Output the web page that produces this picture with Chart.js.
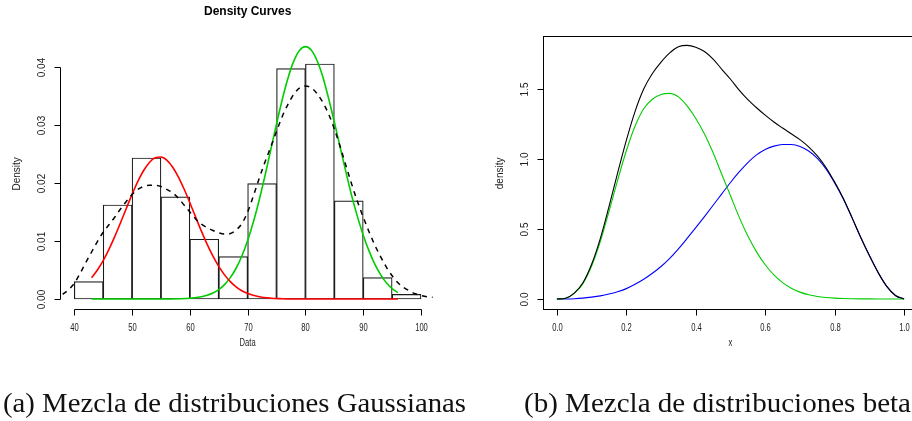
<!DOCTYPE html>
<html>
<head>
<meta charset="utf-8">
<script src="https://cdn.jsdelivr.net/npm/chart.js@4.4.1/dist/chart.umd.min.js"></script>
<style>
    html, body { margin: 0; padding: 0; background: #fff; overflow: hidden; width: 912px; height: 421px; position: relative; }
    canvas { position: absolute; top: 0; }
    #left { left: 0; }
    #right { left: 456px; }
    #captions { left: 0; pointer-events: none; }
</style>
</head>
<body>
<canvas id="left" width="456" height="421"></canvas>
<canvas id="right" width="470" height="421"></canvas>
<canvas id="captions" width="912" height="421"></canvas>
<script>
// ---- panel (a): histogram + gaussian curves ----
const binMids = [42.5, 47.5, 52.5, 57.5, 62.5, 67.5, 72.5, 77.5, 82.5, 87.5, 92.5, 97.5];
const histDensity = [0.0030, 0.0162, 0.0243, 0.0176, 0.0103, 0.0073, 0.0199, 0.0397, 0.0405, 0.0169, 0.0037, 0.0008];

const redX = [43, 44, 45, 46, 47, 48, 49, 50, 51, 52, 53, 54, 55, 56, 57, 58, 59, 60, 61, 62, 63, 64, 65, 66, 67, 68, 69, 70, 72, 74, 76, 78, 82, 88, 96];
const redY = [0.00366, 0.00500, 0.00663, 0.00856, 0.01075, 0.01313, 0.01560, 0.01803, 0.02026, 0.02214, 0.02354, 0.02433, 0.02447, 0.02393, 0.02276, 0.02106, 0.01895, 0.01659, 0.01412, 0.01169, 0.00941, 0.00737, 0.00561, 0.00416, 0.00300, 0.00210, 0.00143, 0.00095, 0.00038, 0.00014, 0.00005, 0.00001, 0, 0, 0];

const greenX = [43, 50, 55, 58, 60, 62, 63, 64, 65, 66, 67, 68, 69, 70, 71, 72, 73, 74, 75, 76, 77, 78, 79, 80, 81, 82, 83, 84, 85, 86, 87, 88, 89, 90, 91, 92, 93, 94, 95, 96];
const greenY = [0, 0, 0, 0.00004, 0.00013, 0.00038, 0.00064, 0.00103, 0.00162, 0.00248, 0.00368, 0.00530, 0.00742, 0.01008, 0.01331, 0.01707, 0.02125, 0.02570, 0.03018, 0.03443, 0.03814, 0.04103, 0.04287, 0.04350, 0.04290, 0.04110, 0.03830, 0.03460, 0.03050, 0.02620, 0.02190, 0.01780, 0.01420, 0.01100, 0.00830, 0.00600, 0.00420, 0.00280, 0.00180, 0.00110];

const kdeX = [38, 39, 40, 41, 42, 43, 44, 45, 46, 47, 48, 49, 50, 51, 52, 53, 54, 55, 56, 57, 58, 59, 60, 61, 62, 63, 64, 65, 66, 67, 68, 69, 70, 71, 72, 73, 74, 75, 76, 77, 78, 79, 80, 81, 82, 83, 84, 85, 86, 87, 88, 89, 90, 91, 92, 93, 94, 95, 96, 97, 98, 99, 100, 101, 102];
const kdeY = [0.0008, 0.0016, 0.0027, 0.0044, 0.0063, 0.0081, 0.0099, 0.0115, 0.0128, 0.0141, 0.0155, 0.0168, 0.0180, 0.0189, 0.0194, 0.0196, 0.0196, 0.0194, 0.0189, 0.0183, 0.0174, 0.0162, 0.0150, 0.0138, 0.0129, 0.0123, 0.0118, 0.0114, 0.0112, 0.0113, 0.0119, 0.0130, 0.0150, 0.0178, 0.0208, 0.0236, 0.0262, 0.0289, 0.0315, 0.0336, 0.0353, 0.0364, 0.0367, 0.0364, 0.0354, 0.0339, 0.0319, 0.0293, 0.0263, 0.0230, 0.0198, 0.0168, 0.0141, 0.0116, 0.0093, 0.0073, 0.0055, 0.0040, 0.0028, 0.0020, 0.0014, 0.0009, 0.0006, 0.0004, 0.0003];

const aXTicks = [40, 50, 60, 70, 80, 90, 100];
const aYTicks = [0, 0.01, 0.02, 0.03, 0.04];
const aYLabels = ["0.00", "0.01", "0.02", "0.03", "0.04"];

// ---- panel (b): beta mixture ----
const betaX = [0, 0.025, 0.05, 0.075, 0.1, 0.125, 0.15, 0.175, 0.2, 0.225, 0.25, 0.275, 0.3, 0.325, 0.35, 0.375, 0.4, 0.425, 0.45, 0.475, 0.5, 0.525, 0.55, 0.575, 0.6, 0.625, 0.65, 0.675, 0.7, 0.725, 0.75, 0.775, 0.8, 0.825, 0.85, 0.875, 0.9, 0.925, 0.95, 0.975, 1];
const betaGreen = [0, 0.005, 0.04, 0.11, 0.235, 0.41, 0.625, 0.85, 1.06, 1.235, 1.36, 1.428, 1.462, 1.47, 1.445, 1.38, 1.29, 1.18, 1.045, 0.89, 0.738, 0.585, 0.45, 0.337, 0.245, 0.172, 0.117, 0.077, 0.049, 0.03, 0.018, 0.0105, 0.006, 0.0033, 0.0018, 0.0009, 0.0004, 0.0002, 0.0001, 0, 0];
const betaBlue = [0, 0.0003, 0.002, 0.006, 0.013, 0.022, 0.035, 0.052, 0.074, 0.105, 0.141, 0.184, 0.232, 0.29, 0.358, 0.433, 0.51, 0.589, 0.67, 0.752, 0.833, 0.908, 0.975, 1.03, 1.069, 1.093, 1.105, 1.104, 1.09, 1.058, 1.005, 0.93, 0.83, 0.715, 0.58, 0.44, 0.31, 0.19, 0.09, 0.025, 0];
const betaMix = [0, 0.0053, 0.042, 0.116, 0.248, 0.432, 0.66, 0.902, 1.134, 1.34, 1.501, 1.612, 1.694, 1.76, 1.803, 1.813, 1.80, 1.769, 1.715, 1.642, 1.571, 1.493, 1.425, 1.367, 1.314, 1.265, 1.222, 1.181, 1.139, 1.088, 1.023, 0.9405, 0.836, 0.7183, 0.5818, 0.4409, 0.3104, 0.1902, 0.0901, 0.025, 0];

const bXTicks = [0, 0.2, 0.4, 0.6, 0.8, 1.0];
const bXLabels = ["0.0", "0.2", "0.4", "0.6", "0.8", "1.0"];
const bYTicks = [0, 0.5, 1.0, 1.5];
const bYLabels = ["0.0", "0.5", "1.0", "1.5"];

function pts(xs, ys) {
    return xs.map((x, i) => ({ x: x, y: ys[i] }));
}

function curve(xs, ys, color, width, dash) {
    return {
        type: "line",
        data: pts(xs, ys),
        borderColor: color,
        borderWidth: width,
        borderDash: dash || [],
        pointRadius: 0,
        fill: false,
        cubicInterpolationMode: "monotone",
        order: 1
    };
}

// R style axes, drawn from the chart's own scales
const rAxes = {
    id: "rAxes",
    afterDraw(chart, args, o) {
        let ctx = chart.ctx;
        let xs = chart.scales.x, ys = chart.scales.y, a = chart.chartArea;
        let L = Math.round(a.left) + 0.5, B = Math.round(a.bottom) + 0.5;
        ctx.save();
        ctx.strokeStyle = "#000";
        ctx.fillStyle = "#222";
        ctx.lineWidth = 1;
        ctx.setLineDash([]);

        if (o.box) {
            ctx.strokeRect(L, Math.round(a.top) + 0.5, Math.round(a.right) - Math.round(a.left), Math.round(a.bottom) - Math.round(a.top));
        } else {
            ctx.beginPath();
            ctx.moveTo(Math.round(xs.getPixelForValue(o.xTicks[0])) + 0.5, B);
            ctx.lineTo(Math.round(xs.getPixelForValue(o.xTicks[o.xTicks.length - 1])) + 0.5, B);
            ctx.stroke();
            ctx.beginPath();
            ctx.moveTo(L, Math.round(ys.getPixelForValue(o.yTicks[0])) + 0.5);
            ctx.lineTo(L, Math.round(ys.getPixelForValue(o.yTicks[o.yTicks.length - 1])) + 0.5);
            ctx.stroke();
        }

        ctx.font = "10px 'Liberation Sans', Arial, sans-serif";
        ctx.textAlign = "center";
        ctx.textBaseline = "middle";

        // x ticks + labels (narrowed like the reference)
        o.xTicks.forEach((v, i) => {
            let px = Math.round(xs.getPixelForValue(v)) + 0.5;
            ctx.beginPath();
            ctx.moveTo(px, B);
            ctx.lineTo(px, B + 6);
            ctx.stroke();
            ctx.save();
            ctx.translate(px, 328.5);
            ctx.scale(0.76, 1);
            ctx.fillText(o.xLabels[i], 0, 0);
            ctx.restore();
        });

        // y ticks + rotated labels
        o.yTicks.forEach((v, i) => {
            let py = Math.round(ys.getPixelForValue(v)) + 0.5;
            ctx.beginPath();
            ctx.moveTo(L, py);
            ctx.lineTo(L - 6, py);
            ctx.stroke();
            ctx.save();
            ctx.translate(L - 18, py);
            ctx.rotate(-Math.PI / 2);
            ctx.fillText(o.yLabels[i], 0, 0);
            ctx.restore();
        });

        // axis titles
        ctx.save();
        ctx.translate((a.left + a.right) / 2, 343.5);
        ctx.scale(0.76, 1);
        ctx.fillText(o.xTitle, 0, 0);
        ctx.restore();

        ctx.save();
        ctx.translate(a.left - 43, (a.top + a.bottom) / 2 + 1);
        ctx.rotate(-Math.PI / 2);
        ctx.fillText(o.yTitle, 0, 0);
        ctx.restore();

        if (o.title) {
            ctx.font = "bold 12px 'Liberation Sans', Arial, sans-serif";
            ctx.fillStyle = "#000";
            ctx.fillText(o.title, (a.left + a.right) / 2, 11.5);
        }
        ctx.restore();
    }
};

new Chart(document.getElementById("left"), {
    type: "bar",
    data: {
        datasets: [
            curve(kdeX, kdeY, "#000", 1.5, [5, 5]),
            curve(redX, redY, "#ff0000", 1.6),
            curve(greenX, greenY, "#00cd00", 1.6),
            {
                type: "bar",
                data: pts(binMids, histDensity),
                backgroundColor: "#fff",
                borderColor: "#1a1a1a",
                borderWidth: 1.2,
                borderSkipped: false,
                barPercentage: 1,
                categoryPercentage: 1,
                order: 10
            }
        ]
    },
    options: {
        responsive: false,
        animation: false,
        devicePixelRatio: 1,
        layout: { padding: { left: 60.4, right: 21.1, top: 36.5, bottom: 111.9 } },
        plugins: {
            legend: { display: false },
            tooltip: { enabled: false },
            rAxes: {
                xTicks: aXTicks, xLabels: aXTicks.map(String),
                yTicks: aYTicks, yLabels: aYLabels,
                xTitle: "Data", yTitle: "Density", title: "Density Curves", box: false
            }
        },
        scales: {
            x: { type: "linear", min: 37.6, max: 102.4, offset: false, display: false },
            y: { type: "linear", min: -0.00174, max: 0.04524, display: false }
        }
    },
    plugins: [rAxes]
});

new Chart(document.getElementById("right"), {
    type: "line",
    data: {
        datasets: [
            curve(betaX, betaMix, "#000", 1.1),
            curve(betaX, betaGreen, "#00cd00", 1.1),
            curve(betaX, betaBlue, "#0000ff", 1.1)
        ]
    },
    options: {
        responsive: false,
        animation: false,
        devicePixelRatio: 1,
        layout: { padding: { left: 87, right: 8, top: 35.7, bottom: 111.9 } },
        plugins: {
            legend: { display: false },
            tooltip: { enabled: false },
            rAxes: {
                xTicks: bXTicks, xLabels: bXLabels,
                yTicks: bYTicks, yLabels: bYLabels,
                xTitle: "x", yTitle: "density", box: true
            }
        },
        scales: {
            x: { type: "linear", min: -0.04, max: 1.04, display: false },
            y: { type: "linear", min: -0.0724, max: 1.8824, display: false }
        }
    },
    plugins: [rAxes]
});

// sub-figure captions
function drawCaption(ctx, text, x0, x1, baseline) {
    ctx.font = "28px 'Liberation Serif', 'Times New Roman', serif";
    let w = ctx.measureText(text).width;
    ctx.save();
    ctx.translate(x0, baseline);
    ctx.scale((x1 - x0) / w, 1);
    ctx.fillText(text, 0, 0);
    ctx.restore();
}

let cctx = document.getElementById("captions").getContext("2d");
cctx.fillStyle = "#111";
cctx.textBaseline = "alphabetic";
drawCaption(cctx, "(a) Mezcla de distribuciones Gaussianas", 3, 466, 411.5);
drawCaption(cctx, "(b) Mezcla de distribuciones beta", 524, 911, 411.5);
</script>
</body>
</html>
